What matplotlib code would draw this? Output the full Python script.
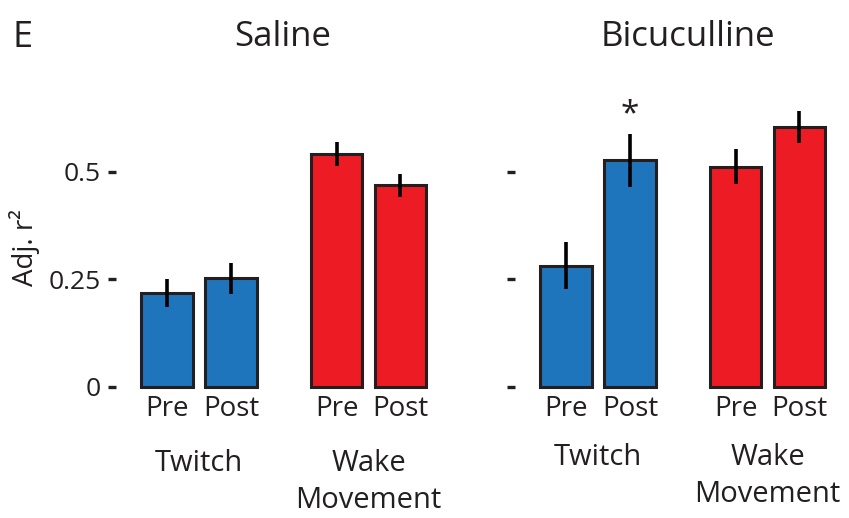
import matplotlib
matplotlib.use("Agg")
import matplotlib.pyplot as plt

plt.rcParams['font.family'] = ['Open Sans', 'DejaVu Sans']

# group / condition layout
conditions = ["Pre", "Post", "Pre", "Post"]
groups = ["Twitch", "Wake\nMovement"]
xpos = [0, 1, 2.65, 3.65]

# adjusted r^2, mean and s.e.m.
saline_mean = [0.218, 0.253, 0.542, 0.469]
saline_err = [0.032, 0.036, 0.028, 0.027]
bicuc_mean = [0.282, 0.527, 0.512, 0.604]
bicuc_err = [0.055, 0.062, 0.041, 0.037]

yticks = [0, 0.25, 0.5]
ytick_labels = ["0", "0.25", "0.5"]

blue = "#1F75BB"
red = "#ED1C24"
edge = "#231F20"
colors = [blue, blue, red, red]

fig = plt.figure(figsize=(8.49, 5.18), dpi=100)
ax1 = fig.add_axes([0.1366, 0.2529, 0.384, 0.5396])
ax2 = fig.add_axes([0.6066, 0.2529, 0.384, 0.5396])


def draw_panel(ax, means, errs, show_labels):
    ax.bar(xpos, means, width=0.81, color=colors, edgecolor=edge,
           linewidth=2.2, clip_on=False, zorder=2)
    ax.errorbar(xpos, means, yerr=errs, fmt="none", ecolor="black",
                elinewidth=2.6, capsize=0, zorder=3, clip_on=False)
    ax.set_xlim(-0.8, 4.3)
    ax.set_ylim(0, 0.65)
    for s in ax.spines.values():
        s.set_visible(False)
    ax.set_yticks(yticks)
    ax.set_yticklabels(ytick_labels if show_labels else [])
    ax.tick_params(axis="y", length=6, width=2.4, color=edge, pad=5,
                   labelsize=19, labelcolor=edge)
    ax.set_xticks(xpos)
    ax.set_xticklabels(conditions)
    ax.tick_params(axis="x", length=0, pad=6, labelsize=20, labelcolor=edge)


draw_panel(ax1, saline_mean, saline_err, True)
draw_panel(ax2, bicuc_mean, bicuc_err, False)

ax1.set_ylabel("Adj. r\u00b2", fontsize=20, color=edge, labelpad=6)

# panel letter and titles
fig.text(12 / 849, 1 - 38 / 518, "E", fontsize=26, color=edge, va="center", ha="left")
fig.text(283 / 849, 1 - 37 / 518, "Saline", fontsize=25, color=edge, ha="center", va="center")
fig.text(688 / 849, 1 - 37 / 518, "Bicuculline", fontsize=25, color=edge, ha="center", va="center")

# group labels under the bars
for ax, yshift in ((ax1, 0), (ax2, 6)):
    for i, g in enumerate(groups):
        xc = (xpos[2 * i] + xpos[2 * i + 1]) / 2
        ax.annotate(g, xy=(xc, 0), xycoords=("data", "axes fraction"),
                    xytext=(0, -62 + yshift), textcoords="offset pixels",
                    ha="center", va="top", fontsize=21, color=edge,
                    linespacing=1.38, annotation_clip=False)

# significance marker
ax2.annotate("*", xy=(xpos[1], bicuc_mean[1] + bicuc_err[1]),
             xytext=(0, 2), textcoords="offset pixels",
             ha="center", va="bottom", fontsize=24, color=edge)

fig.savefig("out.png", dpi=100)
